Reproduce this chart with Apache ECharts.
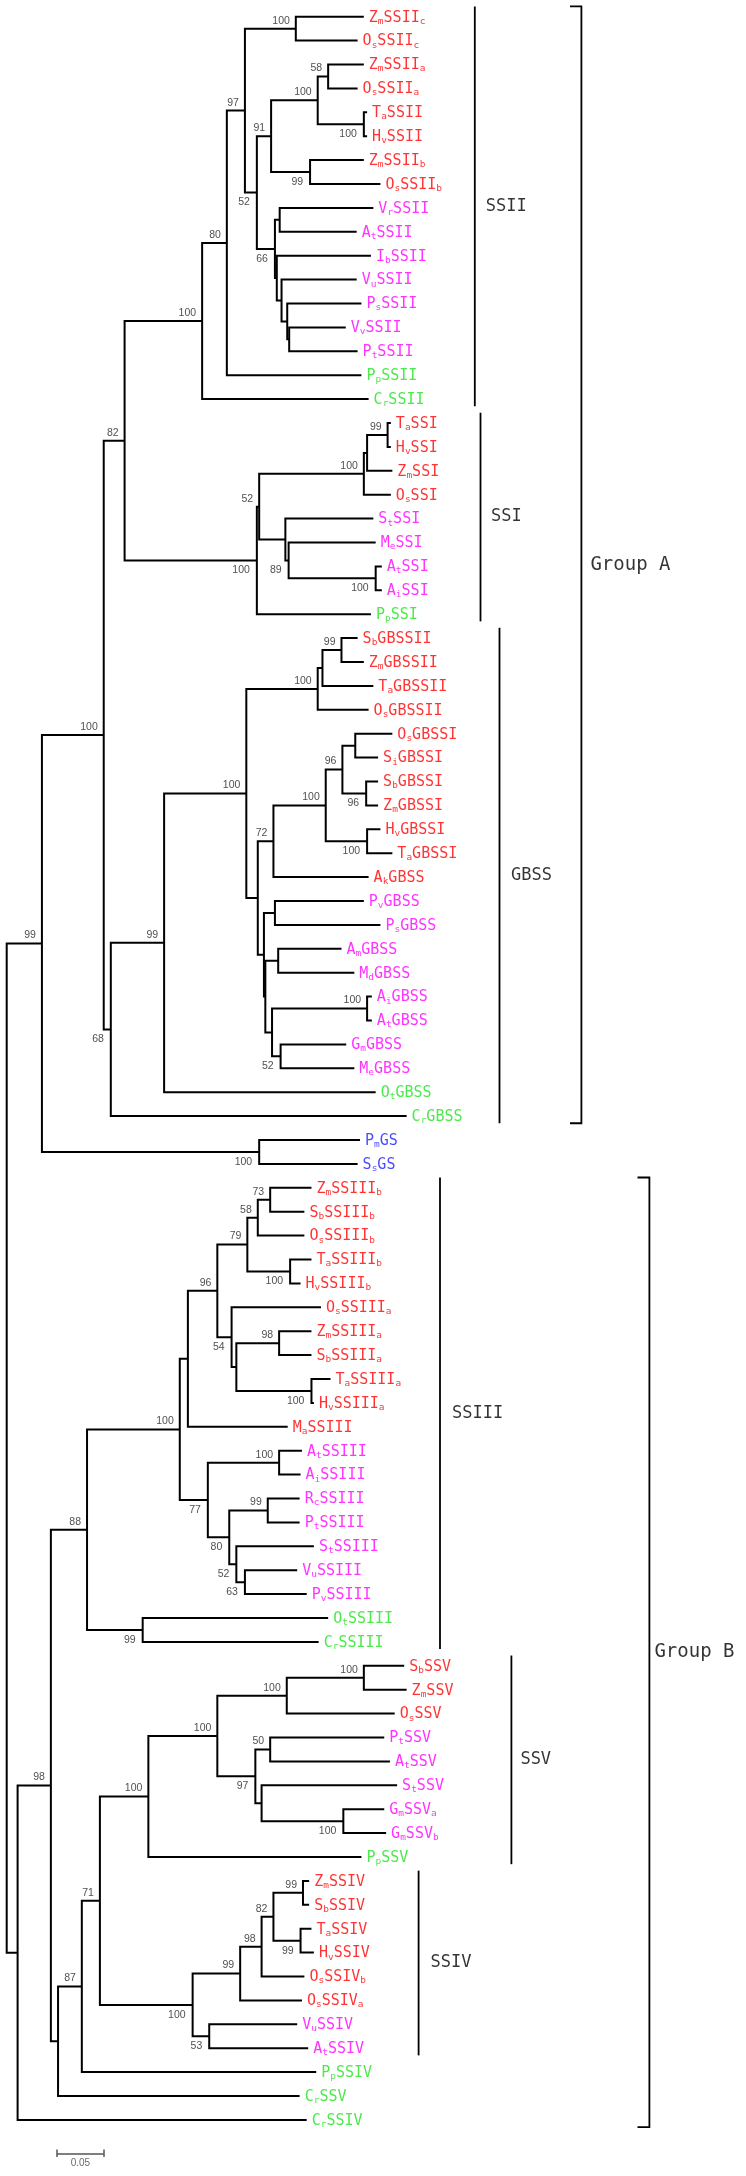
<!DOCTYPE html>
<html><head><meta charset="utf-8">
<script src="https://cdn.jsdelivr.net/npm/echarts/dist/echarts.min.js"></script>
<style>html,body{margin:0;padding:0;background:#fff}#c{width:746px;height:2176px}</style>
</head><body><div id="c"></div>
<script>
// ---------------- DATA ----------------
// Tree topology: internal node label = bootstrap value, number after ':' = node depth from root (substitutions/site)
const treeNewick = `
(
 (
  (
   (
    (
     (
      (
       (ZmSSIIc:0.3832,OsSSIIc:0.3765)100:0.3102,
       (
        (
         ((ZmSSIIa:0.3832,OsSSIIa:0.3765)58:0.3449,(TaSSII:0.3867,HvSSII:0.3867)100:0.3832)100:0.3337,
         (ZmSSIIb:0.3832,OsSSIIb:0.4010)99:0.3255
        )91:0.2837,
        (
         (VrSSII:0.3934,AtSSII:0.3755):0.2929,
         (IbSSII:0.3908,(VuSSII:0.3755,(PsSSII:0.3806,(VvSSII:0.3638,PtSSII:0.3765):0.3031):0.3010):0.2949):0.2898
        )66:0.2878
       )52:0.2684
      )97:0.2556,
      PpSSII:0.3806
     )80:0.2362,
     CrSSII:0.3883
    )100:0.2097,
    (
     (
      (((TaSSI:0.4122,HvSSI:0.4122)99:0.4087,ZmSSI:0.4138):0.3867,OsSSI:0.4122)100:0.3832,
      (StSSI:0.3934,(MeSSI:0.3959,(AtSSI:0.4025,AiSSI:0.4025)100:0.3959)89:0.3025):0.2990
     )52:0.2709,
     PpSSI:0.3908
    )100:0.2684
   )82:0.1265,
   (
    (
     (
      (((SbGBSSII:0.3765,ZmGBSSII:0.3832)99:0.3592,TaGBSSII:0.3934):0.3388,OsGBSSII:0.3883)100:0.3337,
      (
       (
        (
         ((OsGBSSI:0.4138,SiGBSSI:0.3985):0.3740,(SbGBSSI:0.3985,ZmGBSSI:0.3985)96:0.3857)96:0.3602,
         (HvGBSSI:0.4010,TaGBSSI:0.4138)100:0.3867
        )100:0.3423,
        AkGBSS:0.3883
       )72:0.2862,
       (
        (PvGBSS:0.3832,PsGBSS:0.4010):0.2878,
        (
         (AmGBSS:0.3592,MdGBSS:0.3730):0.2913,
         ((AiGBSS:0.3918,AtGBSS:0.3918)100:0.3867,(GmGBSS:0.3643,MeGBSS:0.3730)52:0.2939):0.2847
        ):0.2775
       ):0.2760
      ):0.2694
     )100:0.2571,
     OtGBSS:0.3959
    )99:0.1689,
    CrGBSS:0.4291
   )68:0.1117
  )100:0.1041,
  (PmGS:0.3791,SsGS:0.3765)100:0.2709
 )99:0.0378,
 (
  (
   (
    (
     (
      (
       (
        ((ZmSSIIIb:0.3270,SbSSIIIb:0.3194)73:0.2827,OsSSIIIb:0.3194)58:0.2694,
        (TaSSIIIb:0.3270,HvSSIIIb:0.3153)100:0.3041
       )79:0.2582,
       (OsSSIIIa:0.3372,((ZmSSIIIa:0.3270,SbSSIIIa:0.3270)98:0.2923,(TaSSIIIa:0.3474,HvSSIIIa:0.3296)100:0.3270):0.2464)54:0.2413
      )96:0.2260,
      MaSSIII:0.3015
     ):0.1944,
     (
      (AtSSIII:0.3168,AiSSIII:0.3153)100:0.2923,
      ((RcSSIII:0.3143,PtSSIII:0.3143)99:0.2801,(StSSIII:0.3296,(VuSSIII:0.3117,PvSSIII:0.3219)63:0.2556)52:0.2464)80:0.2388
     )77:0.2158
    )100:0.1857,
    (OtSSIII:0.3449,CrSSIII:0.3347)99:0.1459
   )88:0.0862,
   (
    (
     (
      (
       (
        ((SbSSV:0.4265,ZmSSV:0.4291)100:0.3832,OsSSV:0.4163)100:0.3005,
        ((PtSSV:0.4051,AtSSV:0.4112)50:0.2827,(StSSV:0.4189,(GmSSVa:0.4051,GmSSVb:0.4071)100:0.3612):0.2735)97:0.2668
       )100:0.2260,
       PpSSV:0.3806
      )100:0.1520,
      (
       ((((ZmSSIV:0.3245,SbSSIV:0.3245)99:0.3179,(TaSSIV:0.3270,HvSSIV:0.3296)99:0.3153)82:0.2862,OsSSIVb:0.3194)98:0.2735,OsSSIVa:0.3168)99:0.2505,
       (VuSSIV:0.3117,AtSSIV:0.3235)53:0.2173
      )100:0.1995
     )71:0.1000,
     PpSSIV:0.3321
    )87:0.0806,
    CrSSV:0.3143
   ):0.0551
  )98:0.0474,
  CrSSIV:0.3219
 ):0.0117
):0;`;

const monocotCodes = ['Zm','Os','Ta','Hv','Sb','Si','Ak','Ma'];
const algaeMossCodes = ['Pp','Cr','Ot'];
const glycogenSynthases = ['PmGS','SsGS'];

// [label, first leaf, last leaf]
const cladeBrackets = [
  ['SSII','ZmSSIIc','CrSSII'],
  ['SSI','TaSSI','PpSSI'],
  ['GBSS','SbGBSSII','CrGBSS'],
  ['SSIII','ZmSSIIIb','CrSSIII'],
  ['SSV','SbSSV','PpSSV'],
  ['SSIV','ZmSSIV','AtSSIV']
];
const groupBrackets = [
  ['Group A','ZmSSIIc','CrGBSS'],
  ['Group B','ZmSSIIIb','CrSSIV']
];
const scaleBarLength = 0.05;
const scaleBarLabel = '0.05';

// ---------------- LAYOUT / STYLE ----------------
const W = 746, H = 2176;
const ROOT_PX = 6.7, PX_PER_UNIT = 932;
const TOP_LEAF_PX = 16.7, LEAF_STEP = 23.9;
const layout = {
  clade: {SSII:{x:474.8,gap:10}, SSI:{x:480.5,gap:9.5}, GBSS:{x:499.5,gap:10.5},
          SSIII:{x:440,gap:11}, SSV:{x:511.4,gap:8}, SSIV:{x:418.6,gap:11}},
  group: {'Group A':{x:581.4,tick:11.4,gap:8}, 'Group B':{x:649.4,tick:11.9,gap:4}},
  bracketTop: 0.43, bracketBottom: 0.3,
  scaleBar: {x:57.1, y:2153.3, tick:3.7}
};
const COLORS = {mono:'#ff0000', dicot:'#ff00ff', green:'#1ee31e', blue:'#1a1aff'};
const LEAF_FONT = '"DejaVu Sans Mono", "Liberation Mono", monospace';
const NUM_FONT = '"Liberation Sans", Arial, sans-serif';

const pxToD = px => (px - ROOT_PX) / PX_PER_UNIT;
const pyToIdx = py => 1 + (py - TOP_LEAF_PX) / LEAF_STEP;

// ---------------- TREE PARSING ----------------
function parseNewick(str){
  const s = str.replace(/\s+/g,'');
  let i = 0;
  function read(){
    const node = {children:[]};
    if (s[i] === '('){
      i++;
      node.children.push(read());
      while (s[i] === ','){ i++; node.children.push(read()); }
      i++;
    }
    let lab = '';
    while (i < s.length && ':,();'.indexOf(s[i]) < 0) lab += s[i++];
    node.label = lab;
    if (s[i] === ':'){
      i++; let v = '';
      while (i < s.length && ',();'.indexOf(s[i]) < 0) v += s[i++];
      node.depth = parseFloat(v);
    } else node.depth = 0;
    node.children.forEach(c => c.parent = node);
    return node;
  }
  return read();
}
const root = parseNewick(treeNewick);
const leaves = [], internals = [];
(function place(n){
  if (!n.children.length){ n.y = leaves.length + 1; leaves.push(n); }
  else {
    n.children.forEach(place);
    n.y = (n.children[0].y + n.children[n.children.length-1].y) / 2;
    internals.push(n);
  }
})(root);
const leafIndex = {};
leaves.forEach(l => leafIndex[l.label] = l.y);

// branches
const branchData = [];
internals.forEach(n => {
  const c = n.children, a = c[0], b = c[c.length-1];
  branchData.push({coords:[[a.depth,a.y],[n.depth,a.y],[n.depth,b.y],[b.depth,b.y]]});
  for (let k = 1; k < c.length-1; k++) branchData.push({coords:[[n.depth,c[k].y],[c[k].depth,c[k].y]]});
});

function leafColor(name){
  if (glycogenSynthases.indexOf(name) >= 0) return COLORS.blue;
  const code = name.slice(0,2);
  if (algaeMossCodes.indexOf(code) >= 0) return COLORS.green;
  if (monocotCodes.indexOf(code) >= 0) return COLORS.mono;
  return COLORS.dicot;
}
function richName(name){
  let body = name.slice(2), tail = '';
  const last = body[body.length-1];
  if (last >= 'a' && last <= 'z'){ tail = last; body = body.slice(0,-1); }
  return '{n|' + name[0] + '}{s|' + name[1] + '}{n|' + body + '}' + (tail ? '{s|' + tail + '}' : '');
}
const leafData = leaves.map(l => ({value:[l.depth, l.y], name:l.label, label:{color:leafColor(l.label)}}));

const bootData = internals.filter(n => n.label && n.parent).map(n => {
  const above = n.parent.children[0] === n;
  return {value:[n.depth, n.y], name:n.label,
          label:{offset:[0, above ? -8 : 10], distance: above ? 5 : 6}};
});

// brackets
const bracketLines = [], bracketLabels = [];
cladeBrackets.forEach(([lab, f, l]) => {
  const L = layout.clade[lab], x = pxToD(L.x);
  const y0 = leafIndex[f] - layout.bracketTop, y1 = leafIndex[l] + layout.bracketBottom;
  bracketLines.push({coords:[[x,y0],[x,y1]]});
  bracketLabels.push({value:[x,(y0+y1)/2], name:lab, label:{fontSize:17, distance:L.gap}});
});
groupBrackets.forEach(([lab, f, l]) => {
  const L = layout.group[lab], x = pxToD(L.x), xt = pxToD(L.x - L.tick);
  const y0 = leafIndex[f] - layout.bracketTop, y1 = leafIndex[l] + layout.bracketBottom;
  bracketLines.push({coords:[[xt,y0],[x,y0],[x,y1],[xt,y1]]});
  bracketLabels.push({value:[x,(y0+y1)/2], name:lab, label:{fontSize:19, distance:L.gap}});
});

// scale bar
const sbx0 = pxToD(layout.scaleBar.x), sby = pyToIdx(layout.scaleBar.y);
const sbt = layout.scaleBar.tick / LEAF_STEP;
const scaleLines = [
  {coords:[[sbx0,sby],[sbx0+scaleBarLength,sby]]},
  {coords:[[sbx0,sby-sbt],[sbx0,sby+sbt]]},
  {coords:[[sbx0+scaleBarLength,sby-sbt],[sbx0+scaleBarLength,sby+sbt]]}
];

// ---------------- CHART ----------------
const chart = echarts.init(document.getElementById('c'), null, {renderer:'canvas'});
const hidden = {itemStyle:{color:'rgba(0,0,0,0)'}, symbolSize:2, silent:true};
chart.setOption({
  animation:false,
  backgroundColor:'#ffffff',
  grid:{left:0,right:0,top:0,bottom:0},
  xAxis:{type:'value', min:-ROOT_PX/PX_PER_UNIT, max:(W-ROOT_PX)/PX_PER_UNIT, show:false, splitLine:{show:false}},
  yAxis:{type:'value', inverse:true, min:1-TOP_LEAF_PX/LEAF_STEP, max:1+(H-TOP_LEAF_PX)/LEAF_STEP, show:false, splitLine:{show:false}},
  series:[
    {type:'lines', coordinateSystem:'cartesian2d', polyline:true, silent:true, data:branchData,
     lineStyle:{color:'#000', width:2, opacity:1, join:'miter', cap:'butt'}},
    {type:'lines', coordinateSystem:'cartesian2d', polyline:true, silent:true, data:bracketLines,
     lineStyle:{color:'#000', width:1.8, opacity:1, join:'miter'}},
    {type:'lines', coordinateSystem:'cartesian2d', silent:true, data:scaleLines,
     lineStyle:{color:'#555', width:1.5, opacity:1}},
    Object.assign({type:'scatter', data:leafData,
      label:{show:true, position:'right', distance:4, offset:[0,1],
        formatter:p => richName(p.name),
        rich:{n:{fontFamily:LEAF_FONT, fontSize:15, lineHeight:17},
              s:{fontFamily:LEAF_FONT, fontSize:9.5, lineHeight:9, verticalAlign:'bottom'}}}}, hidden),
    Object.assign({type:'scatter', data:bootData,
      label:{show:true, position:'left', formatter:p => p.name,
        fontFamily:NUM_FONT, fontSize:10.5, color:'#222'}}, hidden),
    Object.assign({type:'scatter', data:bracketLabels,
      label:{show:true, position:'right', formatter:p => p.name,
        fontFamily:LEAF_FONT, color:'#000'}}, hidden),
    Object.assign({type:'scatter', data:[{value:[sbx0+scaleBarLength/2, sby], name:scaleBarLabel}],
      label:{show:true, position:'bottom', distance:4, formatter:p => p.name,
        fontFamily:NUM_FONT, fontSize:10, color:'#444'}}, hidden)
  ]
});
</script>
</body></html>
